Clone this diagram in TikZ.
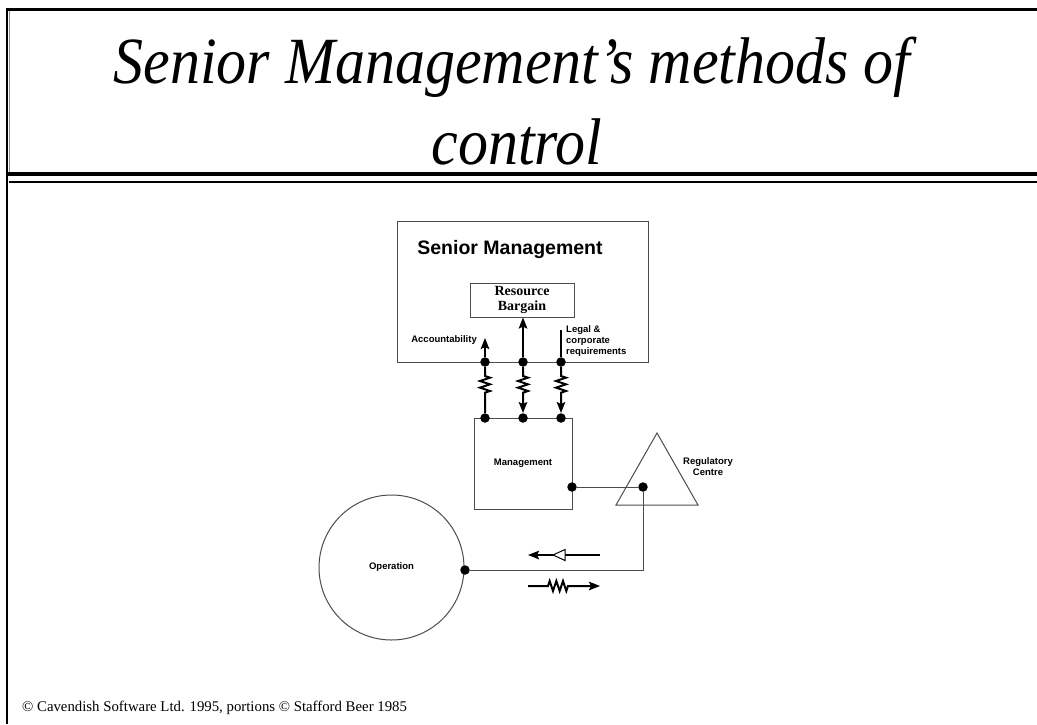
\documentclass[tikz,border=0pt]{standalone}
\usepackage{fontspec}
\setmainfont{Liberation Serif}
\setsansfont{Liberation Sans}
\usetikzlibrary{arrows.meta,decorations.pathmorphing}

\begin{document}
\begin{tikzpicture}[x=1pt, y=-1pt,
  dot/.style={minimum size=9.5pt, inner sep=0pt, shape=circle, fill},
  box/.style={draw=black!70, line width=1pt, inner sep=0pt},
  lbl/.style={font=\sffamily\bfseries\fontsize{9.5}{11}\selectfont, inner sep=0pt},
  headline/.style={anchor=base, inner sep=0pt, font=\itshape\fontsize{60}{60}\selectfont},
  wire/.style={line width=2pt},
  thinwire/.style={draw=black!70, line width=1pt},
  spring/.style={decoration={zigzag, segment length=6.667pt, amplitude=5pt}},
  tip/.style={-{Stealth[length=11pt, width=8.5pt, inset=2pt]}}]
\useasboundingbox (0,0) rectangle (1037,724);
% frame
\draw[line width=3pt] (6,9.5) -- (1037,9.5);
\draw[line width=2pt] (6.5,8) -- (6.5,724);
\draw[black!45, line width=1pt] (9,11) -- (9,172);
\draw[line width=4pt] (6,173.5) -- (1037,173.5);
\draw[line width=2pt] (9,181.5) -- (1037,181.5);
\node[headline] (title1) at (512,83) {\scalebox{1}[1.1]{Senior Management’s methods of}};
\node[headline] (title2) at (517,164) {\scalebox{1}[1.1]{control}};
\node[anchor=base west, inner sep=0pt, font=\fontsize{14.8}{15}\selectfont] (credit) at (22,711) {© Cavendish Software Ltd. 1995, portions © Stafford Beer 1985};
% senior management
\node[box, minimum width=251pt, minimum height=141pt] (senior) at (522.5,291.5) {};
\node[inner sep=0pt, font=\sffamily\bfseries\fontsize{19.5}{20}\selectfont] (seniorlbl) at (510,249) {Senior Management};
\node[box, minimum width=104pt, minimum height=34pt, align=center, font=\bfseries\fontsize{14}{15}\selectfont] (bargain) at (522,300) {Resource\\Bargain};
\node[lbl, anchor=east] (acclbl) at (477,340) {Accountability};
\node[lbl, anchor=north west, align=left] (legallbl) at (566,325) {Legal \&\\corporate\\requirements};
\node[dot] (s1) at (485,362) {};
\node[dot] (s2) at (523,362) {};
\node[dot] (s3) at (561,362) {};
% management
\node[box, minimum width=98pt, minimum height=91pt, lbl] (mgmt) at (523,463.5) {Management};
\node[dot] (m1) at (485,418) {};
\node[dot] (m2) at (523,418) {};
\node[dot] (m3) at (561,418) {};
\node[dot] (m4) at (572,487) {};
% regulatory centre
\draw[thinwire] (657,433) -- (698,505) -- (616,505) -- cycle;
\node[dot] (reg) at (643,487) {};
\node[lbl, align=center] (reglbl) at (708,467) {Regulatory\\Centre};
% operation
\node[circle, draw=black!70, line width=1pt, minimum size=145pt, inner sep=0pt, lbl] (oper) at (391.5,567.5) {Operation};
\node[dot] (o1) at (465,570) {};
% channels
\coordinate (accup) at (485,338);
\coordinate (legalup) at (561,330);
\draw[wire, tip] (s1) -- (accup);
\draw[wire, tip] (s2) -- (s2 |- bargain.south);
\draw[wire] (s3) -- (legalup);
\draw[wire] (s1) -- ++(0,14) decorate[spring] {-- ++(0,20)} -- (m1);
\draw[wire, tip] (s2) -- ++(0,14) decorate[spring] {-- ++(0,20)} -- (m2);
\draw[wire, tip] (s3) -- ++(0,14) decorate[spring] {-- ++(0,20)} -- (m3);
\draw[thinwire] (m4) -- (reg);
\draw[thinwire] (reg) |- (o1);
% feedback and control
\coordinate (fbstart) at (600,555);
\coordinate (fbend) at (528,555);
\coordinate (amp) at (559,555);
\draw[wire, tip] (fbstart) -- (fbend);
\draw[line width=1pt, fill=white] (amp) ++(6,-5.5) -- ++(-12,5.5) -- ++(12,5.5) -- cycle;
\coordinate (ctlstart) at (528,586);
\draw[wire, tip] (ctlstart) -- ++(20,0) decorate[spring] {-- ++(22,0)} -- ++(30,0);
\end{tikzpicture}
\end{document}
